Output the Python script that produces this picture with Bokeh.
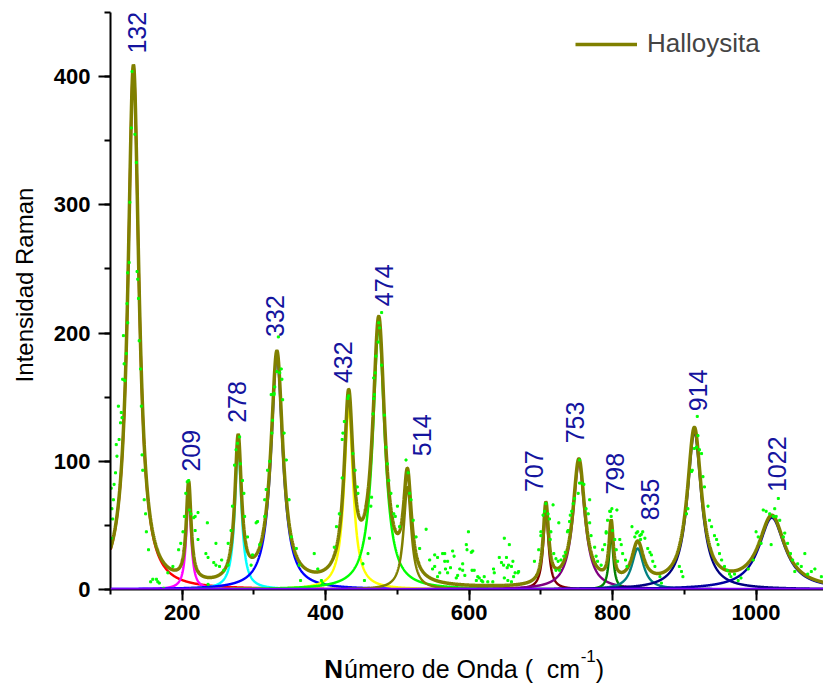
import numpy as np
from bokeh.plotting import figure
from bokeh.layouts import column
from bokeh.models import Range1d, SingleIntervalTicker, Legend, LegendItem, Span
from bokeh.core.properties import value
from bokeh.embed import file_html
from bokeh.resources import INLINE

# ---- Lorentzian components ----
peak_centers = [132, 209, 278, 332, 432, 474, 514, 707, 753, 798, 835, 914, 1022]
peak_heights = [408, 76, 112, 182, 142, 205, 80, 62, 99, 45, 32, 123, 56]
peak_hwhm = [9.2, 4, 5.5, 10, 7.5, 10, 6.5, 4.5, 10, 3.5, 10, 12, 22]
peak_colors = ["#ff0000", "#ff00ff", "#00ffff", "#0000ff", "#ffff00", "#00ff00",
               "#808000", "#800000", "#800080", "#008000", "#008080", "#000080", "#0000a0"]

# ---- peak annotations ----
label_texts = ["132", "209", "278", "332", "432", "474", "514", "707", "753", "798", "835", "914", "1022"]
label_x = [137, 212, 276, 330, 424, 481, 534, 691, 747, 804, 852, 919, 1029]
label_y = [418, 92, 130, 197, 161, 221, 104, 76, 114, 74, 54, 139, 76]

# ---- measured points (green dots) ----
dot_x = [123, 124, 118, 122, 119, 117, 120, 111, 115, 116, 114, 112, 108, 109, 107, 105, 101, 104, 102, 103, 101,
         139, 140, 142, 143, 144, 145, 147, 149, 150, 153,
         130, 129, 134, 136, 127, 126, 124, 137, 138,
         159, 164, 166, 168, 156, 174, 180, 187, 195, 198, 201, 203, 205, 207, 209, 210, 212, 216, 218, 222, 218, 222,
         233, 236, 235, 236,
         244, 247, 252, 255, 258, 264, 247, 264, 268, 270, 273, 275, 277, 280, 281, 284, 286, 287, 291, 296, 298, 303,
         305, 308, 315, 315, 317, 319, 322, 325, 326, 328,
         334, 332, 338, 336, 339, 329, 328, 324,
         340, 342, 345, 349, 352, 359, 363, 365, 384, 389, 394, 396,
         412, 415, 419, 423, 423, 424, 426, 432, 431, 438, 441, 444, 445, 452, 454,
         459, 461, 463, 466, 467, 464, 478, 474, 475, 473, 470, 478, 469, 467, 468,
         482, 484, 486, 488, 491, 495, 497, 500, 503, 512, 515, 517, 519, 522, 526, 531, 540, 545, 552, 556, 566, 570, 552,
         549, 556, 559, 563, 566, 567, 570, 574, 577, 579, 582, 584, 587, 591, 591, 594, 596, 597, 599, 603, 605, 607,
         604, 610, 612, 614, 617, 619, 621, 626, 633, 634, 635, 642, 645, 648, 649, 652, 653, 655, 656, 659, 661, 662,
         664, 668, 669, 649, 654, 659,
         691, 697, 700, 700, 703, 705, 707, 710, 712, 717, 714, 713, 718, 721, 724, 721, 726, 725, 728, 732, 734, 737,
         738, 740, 741, 743, 745, 747, 752, 754, 754, 757, 760, 763, 766, 768, 768, 770, 775, 777, 779, 784, 786, 789,
         791, 793, 796, 798, 799, 797, 806, 800, 803, 805, 807,
         791, 810, 812, 814, 818, 820, 827, 831, 833, 835, 838, 840, 842, 839, 845, 849, 852, 854, 856, 859, 866, 868,
         893, 896, 898,
         903, 905, 910, 911, 914, 917, 919, 918, 921, 924, 926, 928, 933, 935, 938, 942, 945, 947, 949, 952, 956, 960, 963,
         965, 970, 975, 979, 989, 996, 1000, 1003, 1007, 1010, 1014, 1019, 1021, 1024, 1026, 1031, 1028, 1033, 1038,
         1040, 1044, 1048, 1051, 1054, 1058, 1063, 1068, 1072, 1077, 1082, 1091]
dot_y = [223, 208, 198, 184, 176, 164, 163, 143, 138, 134, 130, 117, 113, 104, 91, 82, 79, 70, 63, 55, 40,
         227, 194, 172, 143, 105, 93, 70, 59, 45, 31,
         404, 360, 355, 333, 302, 255, 247, 248, 242,
         8, 8, 6, 5, 6, 1, 13, 18, 31, 36, 45, 57, 75, 84, 85, 62, 59, 56, 57, 60, 46, 39,
         28, 25, 52, 4,
         21, 19, 18, 23, 15, 19, 36, 36, 46, 65, 97, 109, 114, 119, 98, 85, 75, 57, 41, 19, 27, 52,
         53, 35, 57, 70, 78, 93, 100, 122, 132, 152,
         197, 170, 172, 169, 164, 158, 153, 152,
         148, 122, 101, 70, 41, 32, 19, 7, 28, 16, 7, 5,
         33, 49, 59, 87, 117, 122, 131, 151, 149, 106, 93, 80, 75, 20, 7,
         28, 40, 65, 137, 149, 72, 216, 208, 204, 193, 182, 175, 169, 165, 152,
         136, 111, 98, 85, 75, 59, 57, 65, 49, 101, 91, 75, 70, 54, 41, 32, 47, 23, 27, 25, 28, 22, 18,
         16, 10, 13, 28, 22, 16, 13, 17, 30, 26, 9, 11, 16, 20, 15, 11, 35, 31, 45, 29, 30, 15,
         15, 7, 10, 9, 7, 6, 10, 6, 6, 16, 13, 25, 21, 19, 40, 25, 17, 19, 35, 18, 22, 10,
         13, 13, 14, 9, 7, 6,
         22, 31, 42, 45, 58, 61, 67, 59, 55, 66, 45, 39, 28, 24, 22, 15, 15, 52, 23, 26, 29, 45,
         46, 53, 58, 61, 67, 71, 75, 83, 101, 83, 82, 63, 59, 70, 52, 42, 33, 26, 22, 19, 31, 35,
         44, 54, 61, 57, 63, 61, 62, 46, 39, 31, 22,
         45, 39, 35, 28, 23, 18, 49, 41, 44, 45, 42, 43, 45, 39, 40, 32, 29, 27, 22, 18, 10, 5,
         18, 14, 10,
         59, 63, 92, 93, 110, 111, 120, 135, 109, 106, 88, 80, 65, 54, 49, 42, 39, 35, 28, 23, 18, 15, 12,
         10, 12, 7, 9, 16, 23, 45, 41, 36, 62, 61, 59, 35, 57, 63, 71, 57, 54, 41,
         44, 36, 28, 23, 14, 20, 18, 28, 12, 14, 16, 10]

# x-axis title pieces
xtitle_parts = ["N", "úmero de Onda (\u00a0\u00a0cm", "-1", ")"]

FONT = "Liberation Sans"

xs = np.linspace(100, 1100, 4001)
comps = [h / (1.0 + ((xs - c) / w) ** 2) for c, h, w in zip(peak_centers, peak_heights, peak_hwhm)]
total = np.sum(comps, axis=0)

p = figure(width=823, height=640, output_backend="svg", toolbar_location=None,
           x_range=Range1d(100, 1094), y_range=Range1d(0, 459.4),
           min_border_left=110, min_border_right=0, min_border_top=0, min_border_bottom=51)
p.outline_line_color = None
p.xgrid.visible = False
p.ygrid.visible = False

for comp, col in zip(comps, peak_colors):
    p.line(xs, comp, line_color=col, line_width=2.5)

p.add_layout(Span(location=0, dimension="width", line_color="#8000ff", line_width=3.5))

r_sum = p.line(xs, total, line_color="#808000", line_width=3.5)

p.scatter(dot_x, dot_y, marker="square", size=2, color="#00ff00")

p.text(x=label_x, y=label_y, text=label_texts, angle=np.pi / 2, text_align="left",
       text_baseline="middle", text_font=value(FONT), text_font_size="25px", text_color="#14149e")

# axes
for ax in (p.xaxis[0], p.yaxis[0]):
    ax.axis_line_width = 2
    ax.axis_line_color = "black"
    ax.major_tick_line_width = 2
    ax.minor_tick_line_width = 2
    ax.major_tick_in = 0
    ax.minor_tick_in = 0
    ax.major_label_text_font = FONT
    ax.major_label_text_font_style = "bold"
    ax.major_label_text_font_size = "22px"
    ax.major_label_text_color = "black"

p.xaxis.ticker = SingleIntervalTicker(interval=200, num_minor_ticks=2)
p.yaxis.ticker = SingleIntervalTicker(interval=100, num_minor_ticks=2)
p.yaxis.bounds = (0, 450)
p.xaxis.major_tick_out = 11
p.xaxis.minor_tick_out = 5
p.xaxis.major_label_standoff = 4
p.yaxis.major_tick_out = 12
p.yaxis.minor_tick_out = 6
p.yaxis.major_label_standoff = 8

p.yaxis.axis_label = "\u00a0\u00a0\u00a0Intensidad Raman"
p.yaxis.axis_label_text_font = FONT
p.yaxis.axis_label_text_font_style = "normal"
p.yaxis.axis_label_text_font_size = "24px"
p.yaxis.axis_label_standoff = 13
p.yaxis.axis_label_text_color = "black"

legend = Legend(items=[LegendItem(label="Halloysita", renderers=[r_sum])],
                location=(465, 530), border_line_color=None, background_fill_alpha=0,
                glyph_width=62, glyph_height=20, label_text_font=FONT, label_text_font_size="26px",
                padding=0, margin=0, spacing=0, label_standoff=10)
p.add_layout(legend)

# strip below for the mixed-style x-axis title
t = figure(width=823, height=45, output_backend="svg", toolbar_location=None,
           x_range=p.x_range, y_range=Range1d(0, 45),
           x_axis_location=None, y_axis_location=None,
           min_border_left=110, min_border_right=0, min_border_top=0, min_border_bottom=0)
t.outline_line_color = None
t.xgrid.visible = False
t.ygrid.visible = False
t.text(x=[398], y=[17], text=[xtitle_parts[0]], text_font=value(FONT), text_font_style="bold",
       text_font_size="26px", text_baseline="alphabetic", text_align="left", text_color="black")
t.text(x=[425.5], y=[17], text=[xtitle_parts[1]], text_font=value(FONT),
       text_font_size="25px", text_baseline="alphabetic", text_align="left", text_color="black")
t.text(x=[755.5], y=[30], text=[xtitle_parts[2]], text_font=value(FONT),
       text_font_size="17px", text_baseline="alphabetic", text_align="left", text_color="black")
t.text(x=[776.5], y=[17], text=[xtitle_parts[3]], text_font=value(FONT),
       text_font_size="25px", text_baseline="alphabetic", text_align="left", text_color="black")

layout = column(p, t, spacing=0)
open("out.html", "w").write(file_html(layout, INLINE))
